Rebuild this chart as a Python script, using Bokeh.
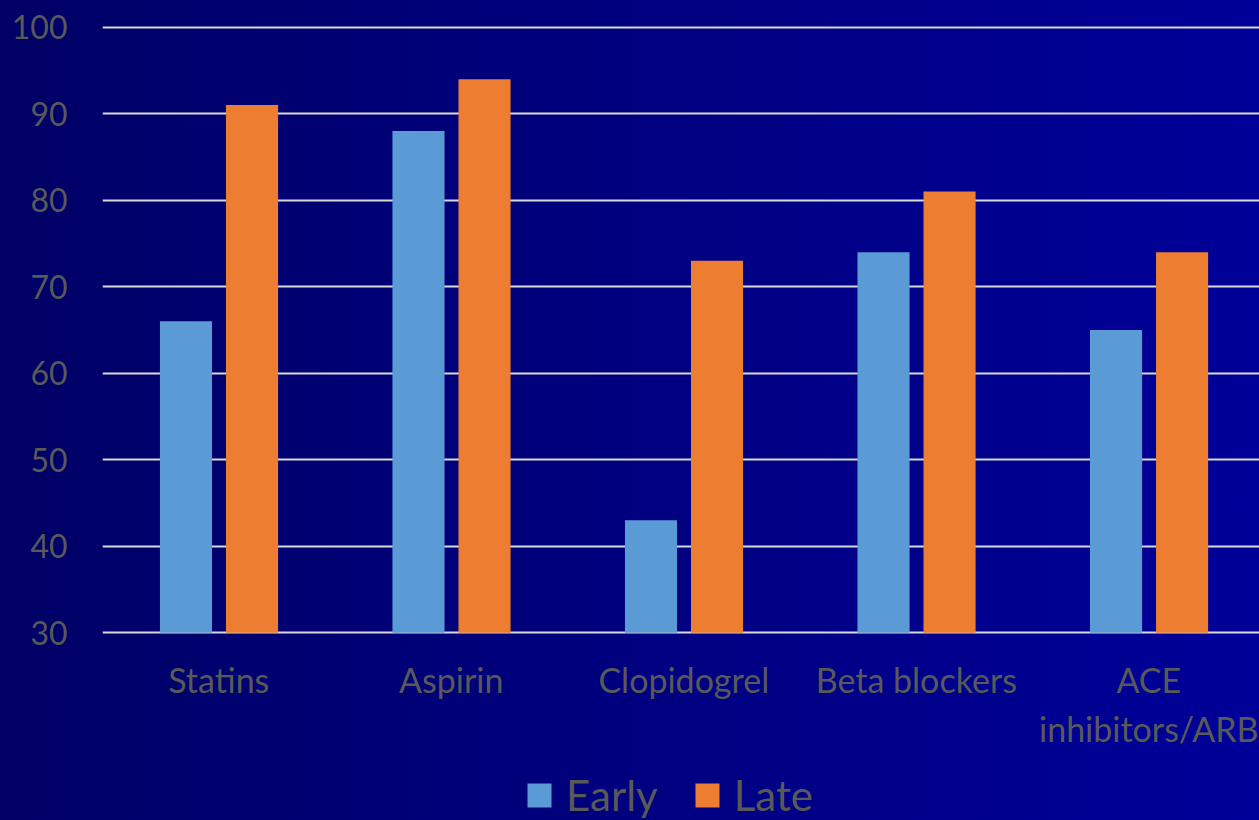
from bokeh.plotting import figure
from bokeh.layouts import column
from bokeh.models import (ColumnDataSource, FixedTicker, Legend, LegendItem,
                          Range1d)
from bokeh.embed import file_html
from bokeh.resources import INLINE

# Share of patients on each therapy, early vs late period (%)
categories = ["Statins", "Aspirin", "Clopidogrel", "Beta blockers", "ACE\ninhibitors/ARB"]
early = [66, 88, 43, 74, 65]
late = [91, 94, 73, 81, 74]
y_ticks = [30, 40, 50, 60, 70, 80, 90, 100]

FONT = "Lato"
TEXT = "#595959"
GRID = "#d9d9d9"
EARLY_C = "#5b9bd5"
LATE_C = "#ed7d31"

idx = list(range(len(categories)))
bar_w = 0.224
src = ColumnDataSource(dict(
    x_early=[i - 0.141 for i in idx],
    x_late=[i + 0.143 for i in idx],
    early=early,
    late=late,
))

p = figure(width=1259, height=760, output_backend="svg", toolbar_location=None,
           x_range=Range1d(-0.5, 4.476), y_range=Range1d(29.8, 100.2),
           min_border_left=102, min_border_right=0, min_border_top=25,
           min_border_bottom=126)
p.background_fill_alpha = 0
p.border_fill_alpha = 0
p.outline_line_color = None

r_early = p.vbar(x="x_early", top="early", bottom=30, width=bar_w, source=src,
                 fill_color=EARLY_C, line_color=None)
r_late = p.vbar(x="x_late", top="late", bottom=30, width=bar_w, source=src,
                fill_color=LATE_C, line_color=None)

# y axis: labels only, with light horizontal gridlines
p.yaxis.ticker = FixedTicker(ticks=y_ticks)
p.yaxis.axis_line_color = None
p.yaxis.major_tick_line_color = None
p.yaxis.minor_tick_line_color = None
p.yaxis.major_tick_out = 0
p.yaxis.major_label_standoff = 35
p.yaxis.major_label_text_font = FONT
p.yaxis.major_label_text_font_size = "32px"
p.yaxis.major_label_text_color = TEXT

p.ygrid.ticker = FixedTicker(ticks=y_ticks)
p.ygrid.grid_line_color = GRID
p.ygrid.grid_line_width = 2
p.xgrid.grid_line_color = None

# x axis: category names under each group
p.xaxis.ticker = FixedTicker(ticks=idx)
p.xaxis.major_label_overrides = {i: c for i, c in zip(idx, categories)}
p.xaxis.axis_line_color = None
p.xaxis.major_tick_line_color = None
p.xaxis.minor_tick_line_color = None
p.xaxis.major_tick_out = 0
p.xaxis.major_label_standoff = 24
p.xaxis.major_label_text_font = FONT
p.xaxis.major_label_text_font_size = "34px"
p.xaxis.major_label_text_color = TEXT

# legend strip under the chart; its ranges keep the bars out of view,
# they only supply the swatches
lg = figure(width=1259, height=60, output_backend="svg", toolbar_location=None,
            x_axis_type=None, y_axis_type=None, min_border=0,
            x_range=Range1d(100, 101), y_range=Range1d(100, 101))
lg.background_fill_alpha = 0
lg.border_fill_alpha = 0
lg.outline_line_color = None
lg.xgrid.visible = False
lg.ygrid.visible = False
k_early = lg.vbar(x="x_early", top="early", bottom=30, width=bar_w, source=src,
                  fill_color=EARLY_C, line_color=None)
k_late = lg.vbar(x="x_late", top="late", bottom=30, width=bar_w, source=src,
                 fill_color=LATE_C, line_color=None)

legend = Legend(items=[LegendItem(label="Early", renderers=[k_early]),
                       LegendItem(label="Late", renderers=[k_late])],
                orientation="horizontal", location=(422, 0),
                glyph_width=30, glyph_height=30, label_standoff=12, spacing=34,
                padding=0, margin=0,
                label_text_font=FONT, label_text_font_size="42px",
                label_text_color=TEXT,
                background_fill_alpha=0, border_line_color=None)
lg.add_layout(legend, "center")

page = column(p, lg, spacing=0,
              styles={"background": "linear-gradient(90deg, #000066 0%, #000099 100%)"})

open("out.html", "w").write(file_html(page, INLINE))
